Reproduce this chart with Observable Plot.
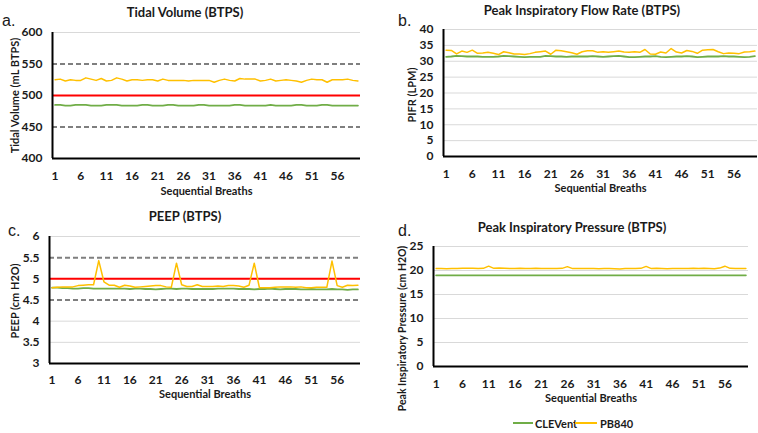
<!DOCTYPE html>
<html>
<head>
<meta charset="utf-8">
<script src="https://cdn.jsdelivr.net/npm/d3@7"></script>
<script src="https://cdn.jsdelivr.net/npm/@observablehq/plot@0.6"></script>
<style>
  html, body { margin: 0; padding: 0; background: #fff; }
  #wrap { position: relative; width: 758px; height: 433px; overflow: hidden; font-family: Lato, "Open Sans", sans-serif; }
  .panel { position: absolute; }
  .title { position: absolute; font-weight: bold; font-size: 13px; color: #1a1a1a; white-space: nowrap; transform: translate(-50%, -50%); }
  .letter { position: absolute; font-family: "Liberation Sans", Arial, sans-serif; font-size: 16px; color: #1a1a1a; transform: translateY(-50%); }
  .lg { position: absolute; top: 423px; transform: translateY(-50%); font-weight: bold; font-size: 11px; color: #1a1a1a; white-space: nowrap; }
  .sw { position: absolute; top: 422px; height: 2px; }
</style>
</head>
<body>
<div id="wrap">
  <div class="letter" style="left:2px; top:21px;">a.</div>
  <div class="letter" style="left:398px; top:21px;">b.</div>
  <div class="letter" style="left:8px; top:231px;">c.</div>
  <div class="letter" style="left:398px; top:231px;">d.</div>
  <div class="title" style="left:185px; top:12px;">Tidal Volume (BTPS)</div>
  <div class="title" style="left:582px; top:10px;">Peak Inspiratory Flow Rate (BTPS)</div>
  <div class="title" style="left:185px; top:216px;">PEEP (BTPS)</div>
  <div class="title" style="left:572px; top:227px;">Peak Inspiratory Pressure (BTPS)</div>
  <div class="panel" id="pa" style="left:0px; top:0px;"></div>
  <div class="panel" id="pb" style="left:380px; top:0px;"></div>
  <div class="panel" id="pc" style="left:0px; top:210px;"></div>
  <div class="panel" id="pd" style="left:380px; top:210px;"></div>
  <div id="legend"></div>
</div>
<script>
// Categories: sequential breath numbers 1..60
const breaths = Array.from({length: 60}, (_, i) => i + 1);
const xTickLabels = [1, 6, 11, 16, 21, 26, 31, 36, 41, 46, 51, 56];
const seriesNames = ["CLEVent", "PB840"];
const seriesColors = ["#70AD47", "#FFC000"];

// a. Tidal Volume (mL BTPS)
const tvCLEVent = [485,485,484,484,485,485,485,484,484,484,485,485,485,484,484,484,484,485,485,484,484,484,485,485,484,484,484,484,485,485,484,484,484,484,484,485,485,484,484,484,484,484,485,484,484,484,484,485,485,484,484,484,485,485,484,484,484,484,484,484];
const tvPB840 = [525,526,523,525,524,524,528,526,524,527,523,524,528,526,523,525,525,524,525,525,523,526,524,524,524,524,523,524,524,524,524,521,524,526,524,523,527,526,526,526,523,524,526,523,524,525,524,523,521,524,526,525,525,521,525,525,525,526,524,523];
const tvTicks = [400, 450, 500, 550, 600];
const tvLimits = [450, 550];
const tvTarget = [500];

// b. Peak Inspiratory Flow Rate (LPM)
const pifrCLEVent = [31.4,31.5,31.7,31.6,31.5,31.5,31.5,31.4,31.4,31.4,31.5,31.7,31.6,31.5,31.4,31.3,31.4,31.4,31.4,31.7,31.6,31.5,31.5,31.4,31.5,31.5,31.5,31.5,31.6,31.5,31.4,31.5,31.6,31.7,31.5,31.3,31.3,31.4,31.5,31.5,31.6,31.4,31.3,31.4,31.5,31.5,31.6,31.5,31.3,31.4,31.5,31.5,31.5,31.6,31.5,31.5,31.4,31.3,31.4,31.6];
const pifrPB840 = [33.5,33.4,32.3,33.2,32.8,33.5,32.5,32.6,32.8,32.5,32.1,33.0,32.7,32.3,32.3,32.1,32.4,32.8,33.0,33.2,32.2,33.5,33.3,33.0,32.7,32.2,33.0,33.3,33.3,32.8,33.0,32.8,33.0,33.2,32.9,32.8,33.0,32.8,33.7,32.3,32.2,32.9,32.6,34.0,32.9,32.6,33.4,33.1,32.5,33.5,33.6,33.7,33.0,32.4,32.6,32.5,32.4,32.9,33.0,33.2];
const pifrTicks = [0, 5, 10, 15, 20, 25, 30, 35, 40];

// c. PEEP (cm H2O)
const peepCLEVent = [4.79,4.79,4.78,4.78,4.77,4.77,4.78,4.78,4.77,4.77,4.77,4.77,4.77,4.77,4.77,4.76,4.77,4.77,4.76,4.76,4.75,4.76,4.77,4.77,4.76,4.77,4.77,4.76,4.76,4.76,4.76,4.76,4.77,4.77,4.77,4.77,4.76,4.76,4.76,4.75,4.76,4.76,4.77,4.76,4.75,4.76,4.76,4.76,4.75,4.75,4.76,4.75,4.75,4.75,4.76,4.75,4.75,4.74,4.75,4.75];
const peepPB840 = [4.79,4.80,4.81,4.81,4.81,4.84,4.85,4.86,4.86,5.43,4.93,4.85,4.85,4.80,4.85,4.83,4.80,4.81,4.82,4.83,4.84,4.84,4.81,4.80,5.37,4.86,4.82,4.82,4.86,4.82,4.82,4.82,4.83,4.82,4.84,4.84,4.83,4.80,4.85,5.37,4.79,4.79,4.79,4.80,4.81,4.81,4.81,4.80,4.81,4.79,4.79,4.80,4.80,4.80,5.42,4.84,4.80,4.85,4.84,4.85];
const peepTicks = [3, 3.5, 4, 4.5, 5, 5.5, 6];
const peepLimits = [4.5, 5.5];
const peepTarget = [5];

// d. Peak Inspiratory Pressure (cm H2O)
const pipCLEVent = [19.0,19.0,19.0,19.0,19.0,19.0,19.0,19.0,19.0,19.0,19.0,19.0,19.0,19.0,19.0,19.0,19.0,19.0,19.0,19.0,19.0,19.0,19.0,19.0,19.0,19.0,19.0,19.0,19.0,19.0,19.0,19.0,19.0,19.0,19.0,19.0,19.0,19.0,19.0,19.0,19.0,19.0,19.0,19.0,19.0,19.0,19.0,19.0,19.0,19.0,19.0,19.0,19.0,19.0,19.0,19.0,19.0,19.0,19.0,19.0];
const pipPB840 = [20.4,20.4,20.35,20.4,20.4,20.45,20.45,20.45,20.4,20.45,20.9,20.45,20.5,20.45,20.4,20.4,20.45,20.4,20.4,20.45,20.4,20.4,20.4,20.4,20.45,20.8,20.4,20.4,20.4,20.4,20.4,20.35,20.4,20.4,20.35,20.3,20.4,20.4,20.4,20.45,20.85,20.4,20.45,20.4,20.35,20.4,20.4,20.4,20.4,20.45,20.4,20.45,20.4,20.35,20.5,20.9,20.45,20.4,20.4,20.4];
const pipTicks = [0, 5, 10, 15, 20, 25];

function makePanel(cfg) {
  const series = [cfg.green, cfg.yellow];
  const rows = [];
  series.forEach((vals, s) => vals.forEach((v, i) => rows.push({breath: breaths[i], value: v, series: seriesNames[s]})));
  const ymin = cfg.ticks[0], ymax = cfg.ticks[cfg.ticks.length - 1];
  const limits = cfg.limits || [];
  const target = cfg.target || [];
  const grid = cfg.ticks.filter(t => t !== ymin && !limits.includes(t) && !target.includes(t));
  const marks = [
    Plot.ruleY(grid, {stroke: "#d9d9d9", strokeWidth: 1}),
    Plot.ruleY(limits, {stroke: "#7f7f7f", strokeWidth: 2, strokeDasharray: "5,3"}),
    Plot.ruleY(target, {stroke: "#ff0000", strokeWidth: 2}),
    Plot.lineY(rows.filter(d => d.series === "CLEVent"), {x: "breath", y: "value", stroke: seriesColors[0], strokeWidth: 1.8}),
    Plot.lineY(rows.filter(d => d.series === "PB840"), {x: "breath", y: "value", stroke: seriesColors[1], strokeWidth: 1.5}),
    Plot.ruleX([0.5], {stroke: "#000", strokeWidth: 2}),
    Plot.ruleY([ymin], {stroke: "#000", strokeWidth: 2}),
    Plot.axisX(xTickLabels, {tickSize: 0, tickPadding: cfg.xPad, label: null, tickFormat: d => String(d)}),
    Plot.axisY(cfg.ticks, {tickSize: 0, tickPadding: 10, label: null, tickFormat: d => String(d)}),
    Plot.text(["Sequential Breaths"], {frameAnchor: "bottom", lineAnchor: "middle", textAnchor: "middle", dy: cfg.xLabelDy, fontSize: 11, fontWeight: "bold"}),
    Plot.text([cfg.ylabel], {frameAnchor: "left", textAnchor: "middle", lineAnchor: "middle", rotate: -90, dx: cfg.yLabelX - cfg.ml, dy: cfg.yLabelDy, fontSize: cfg.yLabelSize || 11, fontWeight: "bold"})
  ];
  const svg = Plot.plot({
    width: cfg.width, height: cfg.height,
    marginLeft: cfg.ml, marginRight: cfg.mr, marginTop: cfg.mt, marginBottom: cfg.mb,
    x: {domain: [0.5, 60.5]},
    y: {domain: [ymin, ymax]},
    style: {fontFamily: "Lato, 'Open Sans', sans-serif", fontWeight: "bold", fontSize: "12px", color: "#1a1a1a", background: "transparent"},
    marks
  });
  document.getElementById(cfg.id).appendChild(svg);
}

makePanel({id: "pa", green: tvCLEVent, yellow: tvPB840, ticks: tvTicks, limits: tvLimits, target: tvTarget,
  ylabel: "Tidal Volume (mL BTPS)", width: 380, height: 205, ml: 52, mr: 20, mt: 32, mb: 47, xPad: 13, xLabelDy: 33, yLabelX: 15, yLabelDy: 0});
makePanel({id: "pb", green: pifrCLEVent, yellow: pifrPB840, ticks: pifrTicks,
  ylabel: "PIFR (LPM)", width: 378, height: 205, ml: 63, mr: 1, mt: 29, mb: 49, xPad: 13, xLabelDy: 32, yLabelX: 32, yLabelDy: 2});
makePanel({id: "pc", green: peepCLEVent, yellow: peepPB840, ticks: peepTicks, limits: peepLimits, target: peepTarget,
  ylabel: "PEEP (cm H2O)", width: 380, height: 200, ml: 49, mr: 20, mt: 26, mb: 47, xPad: 12, xLabelDy: 31, yLabelX: 15, yLabelDy: 1});
makePanel({id: "pd", green: pipCLEVent, yellow: pipPB840, ticks: pipTicks,
  ylabel: "Peak Inspiratory Pressure (cm H2O)", width: 378, height: 223, ml: 53, mr: 10, mt: 36, mb: 67, xPad: 13, xLabelDy: 32, yLabelX: 22, yLabelDy: 22, yLabelSize: 10.5});

// Legend (built from the series names and colours)
const legend = document.getElementById("legend");
const legendPos = [{sw: 513, swW: 20, tx: 535}, {sw: 575, swW: 22, tx: 600}];
seriesNames.forEach((name, i) => {
  const sw = document.createElement("div");
  sw.className = "sw";
  sw.style.left = legendPos[i].sw + "px";
  sw.style.width = legendPos[i].swW + "px";
  sw.style.background = seriesColors[i];
  legend.appendChild(sw);
  const t = document.createElement("div");
  t.className = "lg";
  t.style.left = legendPos[i].tx + "px";
  t.textContent = name;
  legend.appendChild(t);
});
</script>
</body>
</html>
